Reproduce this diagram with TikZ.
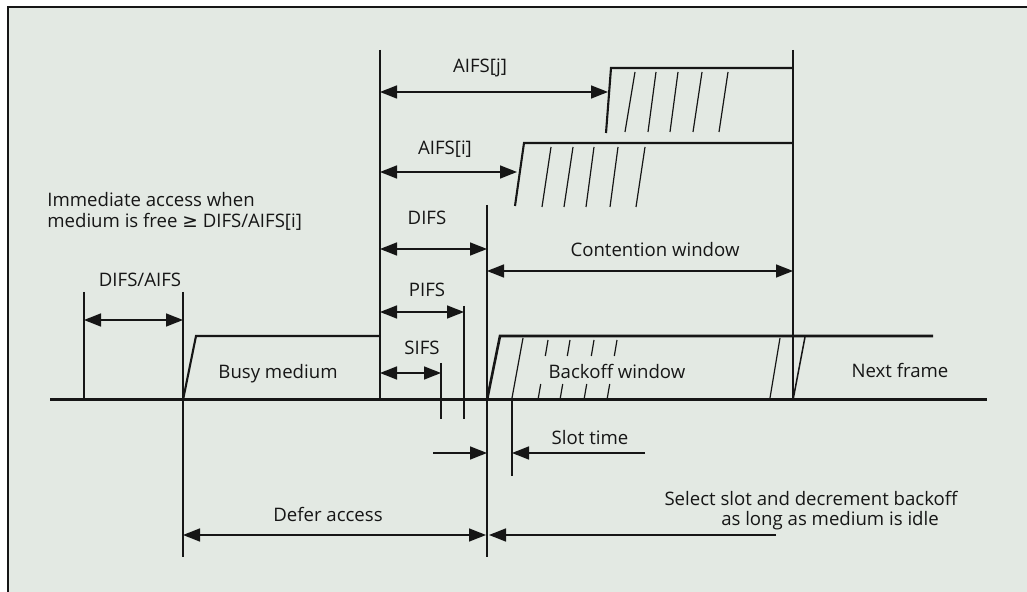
\documentclass[tikz,border=0pt]{standalone}
\usepackage{fontspec}
\setmainfont{Open Sans}
\newfontfamily\symfont{DejaVu Sans}
\usetikzlibrary{arrows.meta}
\definecolor{bgc}{RGB}{227,233,227}
\definecolor{ink}{RGB}{22,22,22}
\begin{document}
\begin{tikzpicture}[x=0.5pt,y=-0.5pt,
  thinln/.style={draw=ink,line width=0.75pt},
  baseln/.style={draw=ink,line width=1.5pt},
  stepln/.style={draw=ink,line width=1.05pt,line join=miter},
  hatch/.style={draw=ink,line width=0.6pt},
  dimarrow/.style={draw=ink,line width=0.75pt,{Triangle[length=8.5pt,width=6.5pt]}-{Triangle[length=8.5pt,width=6.5pt]}},
  onearrow/.style={draw=ink,line width=0.75pt,-{Triangle[length=8.5pt,width=6.5pt]}},
  lbl/.style={text=ink,inner sep=0pt,font=\fontsize{9.3}{10.5}\selectfont,anchor=base}]
\useasboundingbox (0,0) rectangle (1027,592);
% frame
\fill[bgc] (8,7) rectangle (1027,592);
\draw[ink,line width=1pt] (1027,7) -- (8,7) -- (8,592);

% key coordinates
\coordinate (bL) at (50,400);
\coordinate (bR) at (987,400);
% verticals
\coordinate (aTop) at (84,292);   \coordinate (aBot) at (84,400);
\coordinate (bTop) at (183,292);  \coordinate (bBot) at (183,557);
\coordinate (cTop) at (380,50);   \coordinate (cBot) at (380,400);
\coordinate (eTop) at (793,50);   \coordinate (eBot) at (793,400);
\coordinate (dTop) at (487,205);  \coordinate (dBot) at (487,557);
\coordinate (pTop) at (464,306);  \coordinate (pBot) at (464,419);
\coordinate (sTop) at (441,363);  \coordinate (sBot) at (441,419);

% base line
\draw[baseln] (bL) -- (bR);

% vertical markers
\draw[thinln] (aTop) -- (aBot);
\draw[thinln] (bTop) -- (bBot);
\draw[thinln] (cTop) -- (cBot);
\draw[thinln] (eTop) -- (eBot);
\draw[thinln] (dTop) -- (dBot);
\draw[thinln] (pTop) -- (pBot);
\draw[thinln] (sTop) -- (sBot);

% busy medium
\draw[stepln] (183,400) -- (196,336) -- (380,336);

% AIFS[j] staircase
\draw[stepln] (606,133) -- (611,68) -- (793,68);
\foreach \t/\b in {635/625,656/648,678/670,702/693,728/719}
  \draw[hatch] (\t,72) -- (\b,132);

% AIFS[i] staircase
\draw[stepln] (515,206) -- (524,143) -- (793,143);
\foreach \t/\b in {551/542,573/564,594/586,618/610,645/636}
  \draw[hatch] (\t,147) -- (\b,207);

% backoff window
\draw[stepln,line width=1.3pt] (487,400) -- (500,336) -- (933,336);
\draw[hatch] (523,338) -- (512,398);
\draw[thinln] (512,398) -- (512,476);
\foreach \t in {548,570,594,617}{
  \draw[hatch] (\t,340) -- ({\t-2.7},356);
  \draw[hatch] ({\t-7.3},384) -- ({\t-9.7},398);
}
\draw[hatch] (780,338) -- (770,398);
% next frame ramp
\draw[thinln] (793,400) -- (805,337);

% dimension arrows
\coordinate (da1) at (84,320);  \coordinate (da2) at (183,320);
\draw[dimarrow] (da1) -- (da2);
\coordinate (aj1) at (380,92);  \coordinate (aj2) at (608,92);
\draw[dimarrow] (aj1) -- (aj2);
\coordinate (ai1) at (380,172); \coordinate (ai2) at (517,172);
\draw[dimarrow] (ai1) -- (ai2);
\coordinate (df1) at (380,249); \coordinate (df2) at (487,249);
\draw[dimarrow] (df1) -- (df2);
\coordinate (pf1) at (380,312); \coordinate (pf2) at (464,312);
\draw[dimarrow] (pf1) -- (pf2);
\coordinate (sf1) at (380,373); \coordinate (sf2) at (441,373);
\draw[dimarrow] (sf1) -- (sf2);
\coordinate (cw1) at (487,271); \coordinate (cw2) at (793,271);
\draw[dimarrow] (cw1) -- (cw2);
\coordinate (st1) at (433,453); \coordinate (st2) at (487,453);
\draw[onearrow] (st1) -- (st2);
\coordinate (st3) at (645,453); \coordinate (st4) at (512,453);
\draw[onearrow] (st3) -- (st4);
\coordinate (de1) at (183,535); \coordinate (de2) at (486,535);
\draw[dimarrow] (de1) -- (de2);
\coordinate (se1) at (776,535); \coordinate (se2) at (489,535);
\draw[onearrow] (se1) -- (se2);

% labels
\node[lbl] (tAj) at (480,73) {AIFS[j]};
\node[lbl] (tAi) at (445,155) {AIFS[i]};
\node[lbl] (tDIFS) at (427,225) {DIFS};
\node[lbl] (tPIFS) at (427,297) {PIFS};
\node[lbl] (tSIFS) at (422,355) {SIFS};
\node[lbl] (tCW) at (655,257) {Contention window};
\node[lbl] (tBusy) at (278,379) {Busy medium};
\node[lbl] (tBack) at (617,379) {Backoff window};
\node[lbl] (tNext) at (900,378) {Next frame};
\node[lbl] (tDA) at (140,287) {DIFS/AIFS};
\node[lbl,anchor=base west] (tIm1) at (47,207) {Immediate access when};
\node[lbl,anchor=base west] (tIm2) at (47,228) {medium is free {\symfont ≥} DIFS/AIFS[i]};
\node[lbl] (tSlot) at (590,445) {Slot time};
\node[lbl] (tDefer) at (328,522) {Defer access};
\node[lbl] (tSel1) at (811,505) {Select slot and decrement backoff};
\node[lbl] (tSel2) at (830,525) {as long as medium is idle};
\end{tikzpicture}
\end{document}
